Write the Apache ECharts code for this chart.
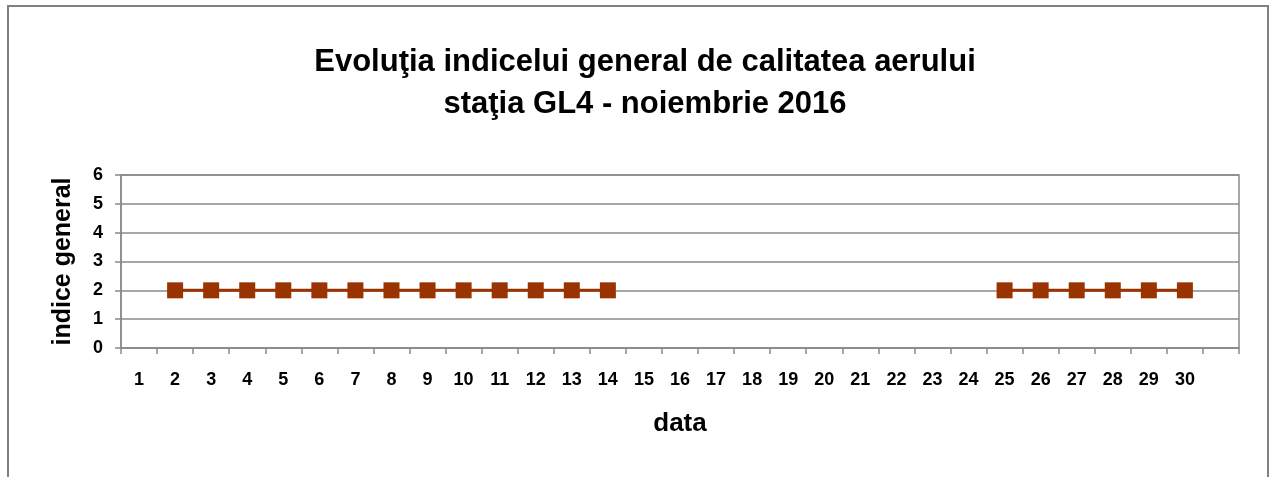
<!DOCTYPE html>
<html>
<head>
<meta charset="utf-8">
<script src="https://cdn.jsdelivr.net/npm/echarts@6/dist/echarts.min.js"></script>
<style>
  html, body { margin: 0; padding: 0; background: #fff; }
  #main { width: 1269px; height: 477px; }
</style>
</head>
<body>
<div id="main"></div>
<script>
// zilele lunii (ultima banda ramane fara eticheta)
var days = ['1','2','3','4','5','6','7','8','9','10','11','12','13','14','15','16',
  '17','18','19','20','21','22','23','24','25','26','27','28','29','30',''];
var indice = [null,2,2,2,2,2,2,2,2,2,2,2,2,2,null,null,null,null,null,null,null,null,null,null,
  2,2,2,2,2,2,null];
var yTicks = [0, 6, 1];

var gray = '#8a8a8a';
var chart = echarts.init(document.getElementById('main'));
chart.setOption({
  backgroundColor: '#fff',
  animation: false,
  textStyle: { fontFamily: 'Liberation Sans, Arial, sans-serif' },
  title: {
    text: 'Evoluţia indicelui general de calitatea aerului\nstaţia GL4 - noiembrie 2016',
    left: 640,
    textAlign: 'center',
    top: 36,
    textStyle: { fontSize: 31, fontWeight: 'bold', color: '#000', lineHeight: 42 }
  },
  graphic: [{
    type: 'rect',
    shape: { x: 8, y: 6, width: 1260, height: 520 },
    style: { fill: 'none', stroke: '#808080', lineWidth: 2 },
    silent: true
  }],
  grid: {
    left: 121, right: 30, top: 175, bottom: 129,
    show: true, borderColor: gray, borderWidth: 1.5, backgroundColor: 'transparent'
  },
  xAxis: {
    type: 'category',
    data: days,
    boundaryGap: true,
    name: 'data',
    nameLocation: 'middle',
    nameGap: 63,
    nameTextStyle: { fontSize: 26, fontWeight: 'bold', color: '#000' },
    axisLine: { lineStyle: { color: gray, width: 1.5 } },
    axisTick: { show: true, length: 6, inside: false, alignWithLabel: false, lineStyle: { color: gray, width: 1.5 } },
    axisLabel: { interval: 0, margin: 23, fontSize: 18, fontWeight: 'bold', color: '#000' },
    splitLine: { show: false }
  },
  yAxis: {
    type: 'value',
    min: yTicks[0], max: yTicks[1], interval: yTicks[2],
    name: 'indice general',
    nameLocation: 'middle',
    nameGap: 45,
    nameRotate: 90,
    nameTextStyle: { fontSize: 25, fontWeight: 'bold', color: '#000' },
    axisLine: { show: true, lineStyle: { color: gray, width: 1.5 } },
    axisTick: { show: true, length: 6, lineStyle: { color: gray, width: 1.5 } },
    axisLabel: { margin: 18, fontSize: 18, fontWeight: 'bold', color: '#000' },
    splitLine: { show: true, lineStyle: { color: gray, width: 1.5 } }
  },
  series: [{
    type: 'line',
    data: indice,
    connectNulls: false,
    symbol: 'rect',
    symbolSize: 16,
    itemStyle: { color: '#993300' },
    lineStyle: { color: '#993300', width: 3 }
  }]
});
</script>
</body>
</html>
